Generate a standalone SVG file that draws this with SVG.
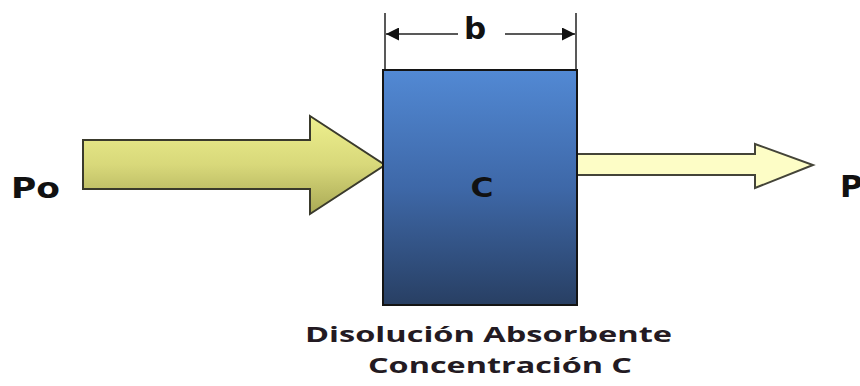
<svg xmlns="http://www.w3.org/2000/svg" width="860" height="386" viewBox="0 0 860 386">
<defs>
<linearGradient id="gBox" x1="0" y1="0" x2="0" y2="1">
<stop offset="0" stop-color="#5289d4"/>
<stop offset="0.5" stop-color="#3e68a8"/>
<stop offset="1" stop-color="#283f63"/>
</linearGradient>
<linearGradient id="gIn" x1="0" y1="0" x2="0" y2="1">
<stop offset="0" stop-color="#eef08e"/>
<stop offset="0.5" stop-color="#d8d87a"/>
<stop offset="1" stop-color="#a9a955"/>
</linearGradient>
<marker id="ah" viewBox="0 0 10 10" refX="10" refY="5" markerWidth="17" markerHeight="13" markerUnits="userSpaceOnUse" orient="auto">
<path d="M0,0 L10,5 L0,10 Z" fill="#111"/>
</marker>
<style>
.lbl{font-family:"DejaVu Sans",Verdana,sans-serif;font-weight:bold;fill:#111}
.cap{font-family:"Open Sans","Liberation Sans",sans-serif;font-weight:bold;fill:#231a22;font-size:22px}
.dim{stroke:#222;stroke-width:1.5;fill:none}
</style>
</defs>
<g id="dimension">
<line class="dim" x1="385" y1="13" x2="385" y2="70"/>
<line class="dim" x1="576" y1="13" x2="576" y2="70"/>
<line class="dim" x1="458" y1="34" x2="386" y2="34" marker-end="url(#ah)"/>
<line class="dim" x1="505" y1="34" x2="575" y2="34" marker-end="url(#ah)"/>
<text class="lbl" x="475" y="39" font-size="31" text-anchor="middle">b</text>
</g>
<g id="connectors">
<path d="M83,140 L310,140 L310,116 L385,165 L310,214 L310,189 L83,189 Z" fill="url(#gIn)" stroke="#3a3a2c" stroke-width="2" stroke-linejoin="miter"/>
<path d="M577,154 L755,154 L755,144 L813,165 L755,188 L755,175 L577,175 Z" fill="#fdfdc6" stroke="#444438" stroke-width="2"/>
</g>
<g id="cell">
<rect x="383" y="70" width="194" height="235" fill="url(#gBox)" stroke="#141414" stroke-width="2"/>
<text class="lbl" x="482" y="197" font-size="26" text-anchor="middle" textLength="23" lengthAdjust="spacingAndGlyphs">C</text>
</g>
<g id="po">
<text class="lbl" x="11" y="198" font-size="29" textLength="49" lengthAdjust="spacingAndGlyphs">Po</text>
</g>
<g id="p">
<text class="lbl" x="840" y="197" font-size="31">P</text>
</g>
<g id="caption">
<text class="cap" x="305" y="342" textLength="367" lengthAdjust="spacingAndGlyphs">Disolución Absorbente</text>
<text class="cap" x="368" y="373" textLength="264" lengthAdjust="spacingAndGlyphs">Concentración C</text>
</g>
</svg>
